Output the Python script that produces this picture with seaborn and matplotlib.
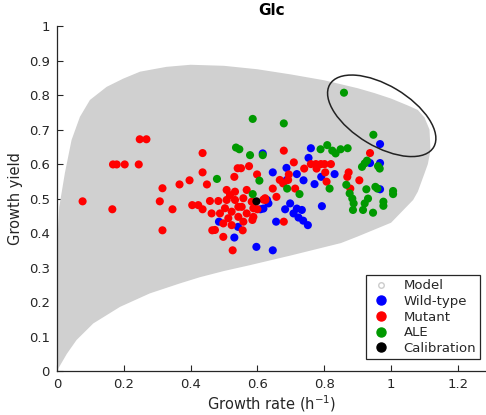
import seaborn as sns
import pandas as pd
import matplotlib
matplotlib.use("Agg")
import matplotlib.pyplot as plt
from matplotlib.patches import Ellipse
from matplotlib.lines import Line2D

# Model feasible region (outline of the grey cloud)
model_x = [-0.004, -0.004, 0.0, 0.007, 0.024, 0.044, 0.069, 0.099, 0.149, 0.199, 0.249,
           0.328, 0.4, 0.5, 0.6, 0.7, 0.8, 0.9, 0.95, 1.0, 1.05, 1.08, 1.1, 1.115, 1.118,
           1.11, 1.1, 1.08, 1.066, 1.03, 1.0, 0.9, 0.85, 0.7, 0.578, 0.5, 0.428,
           0.368, 0.278, 0.189, 0.109, 0.059, 0.03, 0.0]
model_y = [0.0, 0.2, 0.35, 0.475, 0.574, 0.67, 0.737, 0.786, 0.824, 0.848, 0.868,
           0.882, 0.888, 0.885, 0.875, 0.86, 0.843, 0.82, 0.806, 0.79, 0.77, 0.757, 0.735,
           0.7, 0.64, 0.6, 0.573, 0.52, 0.496, 0.46, 0.43, 0.39, 0.371, 0.335, 0.307,
           0.29, 0.272, 0.254, 0.225, 0.186, 0.138, 0.09, 0.05, 0.0]

wt_x = [0.616, 0.646, 0.687, 0.718, 0.738, 0.753, 0.760, 0.771, 0.791, 0.831, 0.793,
        0.629, 0.609, 0.656, 0.531, 0.542, 0.485, 0.597, 0.646, 0.967, 0.937, 0.967,
        0.967, 0.688, 0.698, 0.718, 0.733, 0.683, 0.708, 0.723, 0.737, 0.751, 0.633,
        0.618]
wt_y = [0.631, 0.576, 0.589, 0.571, 0.553, 0.618, 0.646, 0.542, 0.563, 0.571, 0.478,
        0.496, 0.469, 0.433, 0.387, 0.418, 0.433, 0.360, 0.350, 0.658, 0.603, 0.603,
        0.527, 0.554, 0.486, 0.471, 0.467, 0.469, 0.457, 0.445, 0.436, 0.423, 0.486,
        0.471]

mut_x = [0.077, 0.166, 0.248, 0.268, 0.168, 0.179, 0.203, 0.245, 0.316, 0.308, 0.346,
         0.316, 0.367, 0.397, 0.405, 0.436, 0.436, 0.449, 0.436, 0.465,
         0.458, 0.483, 0.508, 0.533, 0.508, 0.533, 0.558, 0.568, 0.518, 0.543, 0.553,
         0.583, 0.503, 0.523, 0.463, 0.488, 0.513, 0.543, 0.568, 0.588, 0.588, 0.498,
         0.473, 0.498, 0.523, 0.558, 0.423, 0.623,
         0.526, 0.541, 0.551, 0.531, 0.575, 0.599, 0.556, 0.585, 0.600, 0.624, 0.646,
         0.657, 0.679, 0.679, 0.667, 0.677, 0.709, 0.694, 0.740, 0.760, 0.775, 0.790,
         0.801, 0.820, 0.777, 0.803, 0.873, 0.869, 0.905, 0.878, 0.937, 0.692, 0.807,
         0.713, 0.618]
mut_y = [0.492, 0.469, 0.672, 0.672, 0.599, 0.599, 0.599, 0.599, 0.530, 0.492, 0.469,
         0.408, 0.541, 0.553, 0.481, 0.632, 0.576, 0.541, 0.469, 0.408,
         0.493, 0.493, 0.525, 0.520, 0.496, 0.496, 0.501, 0.525, 0.510, 0.476, 0.476,
         0.491, 0.472, 0.462, 0.457, 0.457, 0.443, 0.447, 0.457, 0.472, 0.447, 0.428,
         0.409, 0.389, 0.423, 0.433, 0.481, 0.501,
         0.350, 0.588, 0.588, 0.563, 0.594, 0.570, 0.408, 0.438, 0.469, 0.496, 0.529,
         0.505, 0.639, 0.433, 0.554, 0.544, 0.605, 0.570, 0.587, 0.600, 0.600, 0.600,
         0.600, 0.600, 0.587, 0.576, 0.576, 0.563, 0.553, 0.529, 0.632, 0.554, 0.549,
         0.529, 0.497]

ale_x = [0.859, 0.947, 0.586, 0.679, 0.536, 0.546, 0.578, 0.616, 0.479, 0.606, 0.586,
         0.689, 0.726, 0.816, 0.789, 0.809, 0.824, 0.834, 0.849, 0.870, 0.866, 0.876,
         0.884, 0.888, 0.886, 0.913, 0.921, 0.928, 0.961, 0.966, 0.926, 0.931, 0.921,
         0.916, 0.953, 0.959, 0.946, 0.977, 0.977, 1.006, 1.006]
ale_y = [0.807, 0.685, 0.731, 0.718, 0.648, 0.643, 0.626, 0.626, 0.557, 0.552, 0.513,
         0.529, 0.513, 0.529, 0.643, 0.655, 0.639, 0.631, 0.643, 0.646, 0.540, 0.515,
         0.500, 0.486, 0.467, 0.592, 0.602, 0.610, 0.594, 0.587, 0.527, 0.500, 0.486,
         0.467, 0.534, 0.529, 0.459, 0.491, 0.479, 0.522, 0.513]

cal_x = [0.597]
cal_y = [0.492]

groups = ["Wild-type", "Mutant", "ALE", "Calibration"]
colors = {"Wild-type": (0, 0, 1), "Mutant": (1, 0, 0),
          "ALE": (0, 0.6, 0), "Calibration": (0, 0, 0)}

df = pd.concat([
    pd.DataFrame({"rate": wt_x, "yield": wt_y, "group": "Wild-type"}),
    pd.DataFrame({"rate": mut_x, "yield": mut_y, "group": "Mutant"}),
    pd.DataFrame({"rate": ale_x, "yield": ale_y, "group": "ALE"}),
    pd.DataFrame({"rate": cal_x, "yield": cal_y, "group": "Calibration"}),
], ignore_index=True)

sns.set_style("white")
plt.rcParams["font.family"] = ["DejaVu Sans"]
axcol = "#262626"

fig = plt.figure(figsize=(4.86, 4.15), dpi=100)
ax = fig.add_axes([0.117, 0.106, 0.883, 0.831])

ax.fill(model_x, model_y, color="#d0d0d0", lw=0, zorder=1)

sns.scatterplot(data=df, x="rate", y="yield", hue="group", hue_order=groups,
                palette=colors, s=34, linewidth=0, legend=False, ax=ax, zorder=2)

ax.add_patch(Ellipse((0.972, 0.740), width=0.36, height=0.177, angle=-30,
                     fill=False, edgecolor="#222222", lw=1.1, zorder=3))

ax.set_xlim(0, 1.284)
ax.set_ylim(0, 1)
ax.set_xticks([0, 0.2, 0.4, 0.6, 0.8, 1.0, 1.2])
ax.set_xticklabels(["0", "0.2", "0.4", "0.6", "0.8", "1", "1.2"])
ax.set_yticks([i / 10 for i in range(11)])
ax.set_yticklabels(["0"] + [f"0.{i}" for i in range(1, 10)] + ["1"])

for side in ["top", "right"]:
    ax.spines[side].set_visible(False)
for side in ["left", "bottom"]:
    ax.spines[side].set_color(axcol)
    ax.spines[side].set_linewidth(0.9)
ax.tick_params(direction="in", length=4, width=0.8, colors=axcol, labelsize=9.5,
               bottom=True, left=True, pad=5)

ax.set_xlabel("Growth rate (h$^{-1}$)", fontsize=10.5, color=axcol, labelpad=2)
ax.set_ylabel("Growth yield", fontsize=10.5, color=axcol)
ax.set_title("Glc", fontsize=11, fontweight="bold", color="black", pad=8)

handles = [Line2D([], [], ls="", marker="o", ms=4, mfc="none", mec="#cccccc",
                  label="Model")]
for g in groups:
    handles.append(Line2D([], [], ls="", marker="o", ms=6.5, mfc=colors[g],
                          mec=colors[g], label=g))
leg = ax.legend(handles=handles, loc="lower right", bbox_to_anchor=(0.986, 0.035),
                borderaxespad=0, fontsize=9.5, frameon=True, fancybox=False,
                framealpha=1, edgecolor=axcol, handlelength=1.6, handletextpad=0.9,
                labelspacing=0.2, borderpad=0.3)
leg.get_frame().set_linewidth(0.9)
for t in leg.get_texts():
    t.set_color(axcol)

fig.savefig("out.png", dpi=100)
